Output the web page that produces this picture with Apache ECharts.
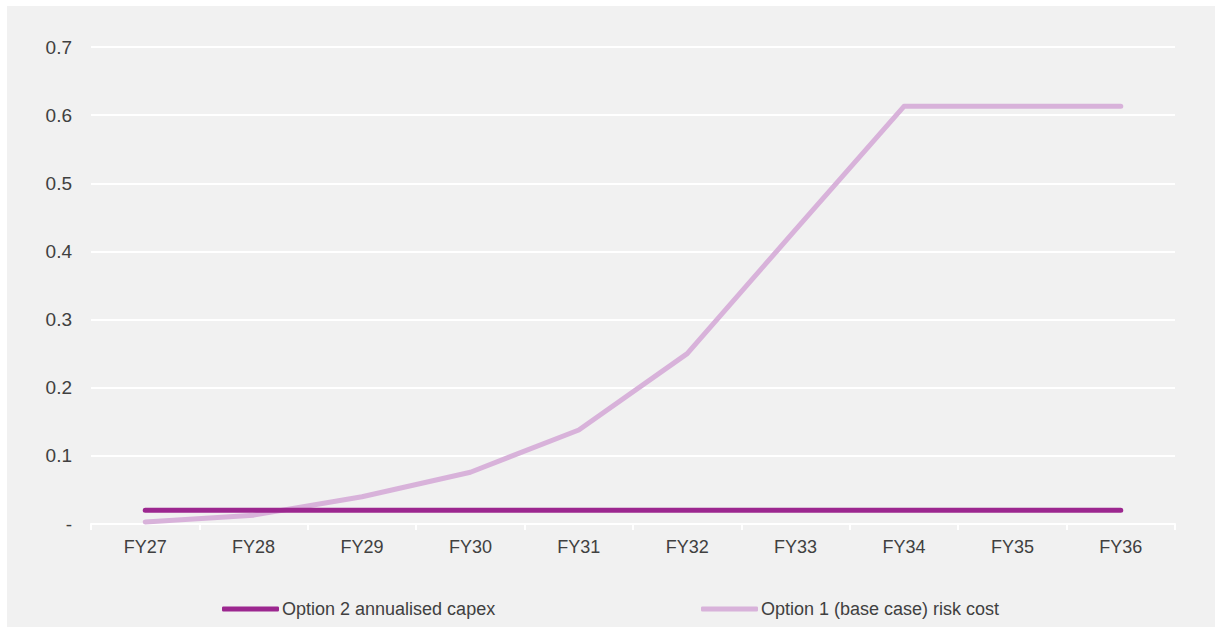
<!DOCTYPE html>
<html>
<head>
<meta charset="utf-8">
<script src="https://cdn.jsdelivr.net/npm/echarts@6/dist/echarts.min.js"></script>
<style>
  html, body { margin: 0; padding: 0; background: #ffffff; }
  #chart { width: 1219px; height: 630px; }
</style>
</head>
<body>
<div id="chart"></div>
<script>
const years = ['FY27', 'FY28', 'FY29', 'FY30', 'FY31', 'FY32', 'FY33', 'FY34', 'FY35', 'FY36']
const capexName = 'Option 2 annualised capex'
const capexValues = [0.02, 0.02, 0.02, 0.02, 0.02, 0.02, 0.02, 0.02, 0.02, 0.02]
const riskName = 'Option 1 (base case) risk cost'
const riskValues = [0.003, 0.013, 0.04, 0.076, 0.138, 0.25, 0.432, 0.613, 0.613, 0.613]

const capexColor = '#9c278f'
const riskColor = '#d8b2da'
const textColor = '#404040'
const font = 'Liberation Sans, Arial, sans-serif'

const chart = echarts.init(document.getElementById('chart'), null, { renderer: 'svg' })

function legendFor(name, left) {
  return {
    data: [name],
    left: left,
    top: 595,
    icon: 'roundRect',
    itemWidth: 57,
    itemHeight: 5,
    itemGap: 0,
    textStyle: { color: textColor, fontSize: 18, fontFamily: font, padding: [0, 0, 0, -2] },
  }
}

chart.setOption({
  animation: false,
  backgroundColor: '#ffffff',
  graphic: [
    {
      type: 'rect',
      z: -10,
      silent: true,
      shape: { x: 7, y: 6, width: 1208, height: 621 },
      style: { fill: '#f1f1f1' },
    },
  ],
  grid: { left: 91, right: 44, top: 47, bottom: 106 },
  legend: [legendFor(capexName, 217), legendFor(riskName, 696)],
  xAxis: {
    type: 'category',
    data: years,
    boundaryGap: true,
    axisLine: { lineStyle: { color: '#ffffff', width: 2 } },
    axisTick: { show: true, length: 6, lineStyle: { color: '#ffffff', width: 2 } },
    axisLabel: { color: textColor, fontSize: 18, fontFamily: font, margin: 14 },
  },
  yAxis: {
    type: 'value',
    min: 0,
    max: 0.7,
    interval: 0.1,
    axisLine: { show: false },
    axisTick: { show: false },
    axisLabel: {
      color: textColor,
      fontSize: 19,
      fontFamily: font,
      margin: 19,
      formatter: (v) => (v === 0 ? '-' : v.toFixed(1)),
    },
    splitLine: { lineStyle: { color: '#ffffff', width: 2 } },
  },
  series: [
    {
      name: capexName,
      type: 'line',
      data: capexValues,
      symbol: 'none',
      color: capexColor,
      lineStyle: { color: capexColor, width: 5, cap: 'round' },
      z: 3,
    },
    {
      name: riskName,
      type: 'line',
      data: riskValues,
      symbol: 'none',
      color: riskColor,
      lineStyle: { color: riskColor, width: 5, cap: 'round', join: 'round' },
      z: 2,
    },
  ],
})
</script>
</body>
</html>
